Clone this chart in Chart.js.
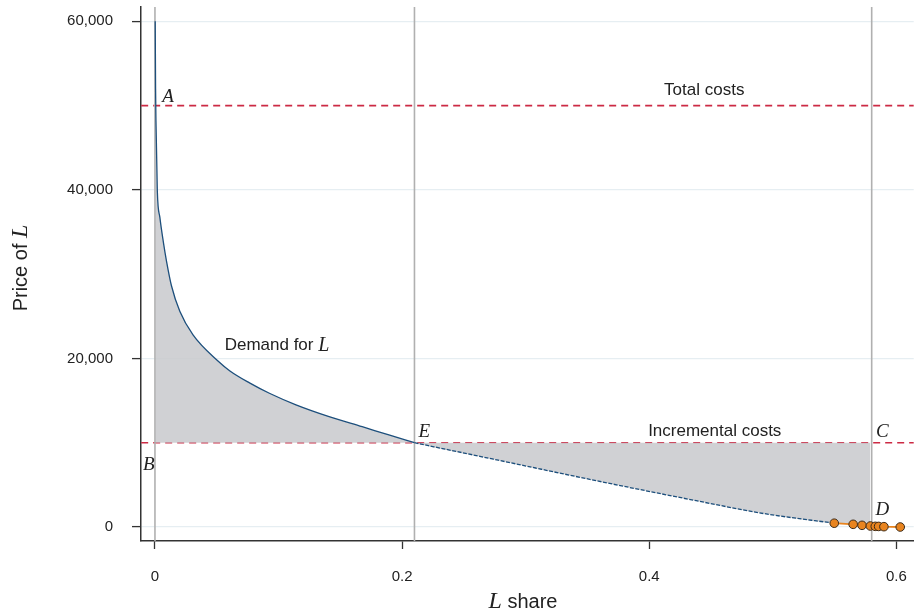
<!DOCTYPE html>
<html>
<head>
<meta charset="utf-8">
<script src="https://cdn.jsdelivr.net/npm/chart.js@4/dist/chart.umd.min.js"></script>
<style>
  html, body { margin: 0; padding: 0; background: #fff; }
  #wrap { width: 919px; height: 614px; position: relative; }
</style>
</head>
<body>
<div id="wrap"><canvas id="demandChart"></canvas></div>
<script>
// Demand curve for L (share, price)
const demandX = [0.0002, 0.0005, 0.0008, 0.0019, 0.0040, 0.0067, 0.0094, 0.0134, 0.0201, 0.0308, 0.0510, 0.0604, 0.0765, 0.0926, 0.1141, 0.1409, 0.1677, 0.1893, 0.21];
const demandY = [60000, 52000, 48200, 39900, 36700, 33900, 31500, 28600, 25600, 22800, 19700, 18550, 17100, 15870, 14500, 13100, 11900, 10920, 10000];
// continuation below incremental costs (dashed)
const tailX = [0.21, 0.2778, 0.358, 0.4388, 0.4925, 0.5497];
const tailY = [10000, 7930, 5470, 3100, 1600, 450];

// observed points near D
const obsX = [0.5497, 0.5650, 0.5722, 0.5789, 0.5829, 0.5856, 0.5899, 0.6031];
const obsY = [450, 320, 200, 120, 80, 70, 40, 0];

const totalCost = 50000;
const incrementalCost = 10000;
const markerX = [0, 0.21, 0.58];   // vertical reference lines

const xTicks = [0, 0.2, 0.4, 0.6];
const yTicks = [0, 20000, 40000, 60000];

const pts = (xs, ys) => xs.map((x, i) => ({ x: x, y: ys[i] }));

// boundary of the shaded area: curve, tail, then observed points up to C
const shadeBoundary = pts(demandX, demandY)
    .concat(pts(tailX, tailY).slice(1))
    .concat(pts(obsX, obsY).filter(p => p.x > 0.5497 && p.x <= 0.58));

const sans = '"Liberation Sans", Arial, sans-serif';
const serif = '"Liberation Serif", "Times New Roman", serif';

// text on the plot, placed in data coordinates
const notes = [
    { x: 0.0105, y: 51000, text: 'A', italic: true },
    { x: -0.005, y: 7350, text: 'B', italic: true },
    { x: 0.5886, y: 11270, text: 'C', italic: true },
    { x: 0.5886, y: 2050, text: 'D', italic: true },
    { x: 0.218, y: 11270, text: 'E', italic: true },
    { x: 0.4445, y: 51800, text: 'Total costs' },
    { x: 0.453, y: 11350, text: 'Incremental costs' }
];

function drawMixed(ctx, parts, x, y, align) {
    let total = 0;
    parts.forEach(p => { ctx.font = p.font; total += ctx.measureText(p.text).width; });
    let cx = align === 'center' ? x - total / 2 : x;
    parts.forEach(p => {
        ctx.font = p.font;
        ctx.fillText(p.text, cx, y);
        cx += ctx.measureText(p.text).width;
    });
}

const textPlugin = {
    id: 'textPlugin',
    afterDraw(chart) {
        const ctx = chart.ctx;
        const xs = chart.scales.x, ys = chart.scales.y;
        ctx.save();
        ctx.fillStyle = '#222';
        ctx.textBaseline = 'middle';
        ctx.textAlign = 'left';
        notes.forEach(n => {
            const px = xs.getPixelForValue(n.x), py = ys.getPixelForValue(n.y);
            ctx.font = n.italic ? 'italic 19px ' + serif : '17px ' + sans;
            const w = ctx.measureText(n.text).width;
            ctx.fillText(n.text, px - w / 2, py);
        });
        // "Demand for L"
        drawMixed(ctx, [
            { text: 'Demand for ', font: '17px ' + sans },
            { text: 'L', font: 'italic 20px ' + serif }
        ], xs.getPixelForValue(0.0564), ys.getPixelForValue(21500), 'left');

        // axis titles
        ctx.textBaseline = 'alphabetic';
        drawMixed(ctx, [
            { text: 'L', font: 'italic 24px ' + serif },
            { text: ' share', font: '20px ' + sans }
        ], 523, 608, 'center');

        ctx.translate(27, 268);
        ctx.rotate(-Math.PI / 2);
        drawMixed(ctx, [
            { text: 'Price of ', font: '20px ' + sans },
            { text: 'L', font: 'italic 24px ' + serif }
        ], 0, 0, 'center');
        ctx.restore();
    }
};

const gray = '#b0b0b0';
const red = '#cc2a44';
const blue = '#1d4f7c';
const orange = '#e8841f';

const ctx = document.getElementById('demandChart');
new Chart(ctx, {
    type: 'line',
    data: {
        datasets: [
            {
                label: 'Observed',
                data: pts(obsX, obsY),
                borderColor: orange,
                borderWidth: 1.8,
                pointRadius: 4.3,
                pointBackgroundColor: orange,
                pointBorderColor: '#3b2a18',
                pointBorderWidth: 1,
                order: 1
            },
            {
                label: 'Demand for L',
                data: pts(demandX, demandY),
                borderColor: blue,
                borderWidth: 1.3,
                pointRadius: 0,
                cubicInterpolationMode: 'monotone',
                order: 2
            },
            {
                label: 'Demand tail',
                data: pts(tailX, tailY),
                borderColor: blue,
                borderWidth: 1.3,
                borderDash: [4, 1.5],
                pointRadius: 0,
                cubicInterpolationMode: 'monotone',
                order: 2
            },
            ...markerX.map(v => ({
                label: 'marker ' + v,
                data: [{ x: v, y: -5000 }, { x: v, y: 70000 }],
                borderColor: gray,
                borderWidth: 1.6,
                pointRadius: 0,
                order: 3
            })),
            {
                label: 'Shade',
                data: shadeBoundary,
                borderWidth: 0,
                borderColor: 'rgba(0,0,0,0)',
                pointRadius: 0,
                cubicInterpolationMode: 'monotone',
                fill: {
                    target: { value: incrementalCost },
                    above: 'rgba(200,201,204,0.85)',
                    below: 'rgba(200,201,204,0.85)'
                },
                order: 4
            },
            {
                label: 'Total costs',
                data: [{ x: -0.05, y: totalCost }, { x: 0.7, y: totalCost }],
                borderColor: red,
                borderWidth: 1.6,
                borderDash: [7, 5],
                pointRadius: 0,
                order: 5
            },
            {
                label: 'Incremental costs',
                data: [{ x: -0.05, y: incrementalCost }, { x: 0.7, y: incrementalCost }],
                borderColor: red,
                borderWidth: 1.6,
                borderDash: [7, 5],
                pointRadius: 0,
                order: 5
            }
        ]
    },
    options: {
        responsive: true,
        maintainAspectRatio: false,
        animation: false,
        layout: { padding: { top: 7, right: 1, left: 0, bottom: 0 } },
        plugins: {
            legend: { display: false },
            tooltip: { enabled: false }
        },
        scales: {
            x: {
                type: 'linear',
                min: -0.0113,
                max: 0.614,
                afterBuildTicks: s => { s.ticks = xTicks.map(v => ({ value: v })); },
                afterFit: s => { s.height = 73; s.paddingLeft = 0; s.paddingRight = 0; },
                border: { display: true, color: '#333', width: 1.5 },
                grid: { drawOnChartArea: false, drawTicks: true, tickLength: 8, tickColor: '#333', tickWidth: 1.3 },
                ticks: {
                    color: '#222',
                    padding: 19,
                    maxRotation: 0,
                    font: { family: sans, size: 15 },
                    callback: v => String(v)
                }
            },
            y: {
                type: 'linear',
                min: -1660,
                max: 61700,
                afterBuildTicks: s => { s.ticks = yTicks.map(v => ({ value: v })); },
                afterFit: s => { s.width = 141; s.paddingTop = 0; s.paddingBottom = 0; },
                border: { display: true, color: '#333', width: 1.5 },
                grid: { color: '#e6eef2', lineWidth: 1.2, drawTicks: true, tickLength: 9, tickColor: '#333', tickWidth: 1.3 },
                ticks: {
                    color: '#222',
                    padding: 19,
                    font: { family: sans, size: 15 },
                    callback: v => v.toLocaleString('en-US')
                }
            }
        }
    },
    plugins: [textPlugin]
});
</script>
</body>
</html>
